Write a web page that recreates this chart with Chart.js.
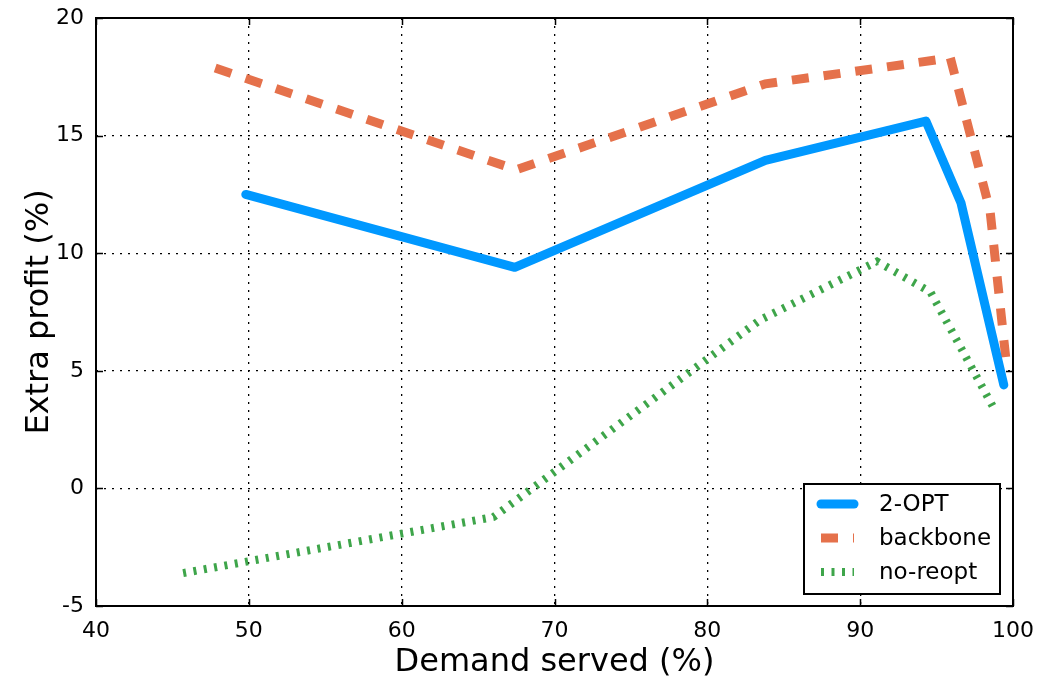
<!DOCTYPE html>
<html>
<head>
<meta charset="utf-8">
<script src="https://cdn.jsdelivr.net/npm/chart.js@4.4.1/dist/chart.umd.min.js"></script>
<style>
  body { margin: 0; background: #fff; }
  #wrap { width: 1037px; height: 682px; }
</style>
</head>
<body>
<div id="wrap"><canvas id="profitChart"></canvas></div>
<script>
// data
var seriesNames = ['2-OPT', 'backbone', 'no-reopt'];

var optX = [49.8, 67.4, 83.8, 94.3, 96.6, 99.4];
var optY = [12.5, 9.4, 13.95, 15.62, 12.13, 4.4];

var backboneX = [47.8, 67.5, 83.8, 95.9, 98.5, 99.6];
var backboneY = [17.87, 13.55, 17.2, 18.3, 11.8, 5.1];

var noReoptX = [45.7, 66.0, 83.45, 91.1, 94.6, 98.7];
var noReoptY = [-3.6, -1.22, 7.16, 9.65, 8.35, 3.46];

var xTicks = [40, 50, 60, 70, 80, 90, 100];
var yTicks = [-5, 0, 5, 10, 15, 20];

var FONT = '"DejaVu Sans", "Liberation Sans", sans-serif';

function toPoints(xs, ys) {
    var pts = [];
    for (var i = 0; i < xs.length; i++) pts.push({x: xs[i], y: ys[i]});
    return pts;
}

// inward ticks on all four sides, the frame, and the boxed legend
var framePlugin = {
    id: 'frameAndLegend',
    afterDatasetsDraw: function(chart) {
        var ctx = chart.ctx;
        var a = chart.chartArea;
        var xs = chart.scales.x, ys = chart.scales.y;
        ctx.save();
        ctx.strokeStyle = '#000';
        ctx.lineWidth = 1.5;
        ctx.setLineDash([]);
        ctx.beginPath();
        xTicks.forEach(function(v) {
            var px = Math.round(xs.getPixelForValue(v)) + 0.5;
            ctx.moveTo(px, a.bottom); ctx.lineTo(px, a.bottom - 7);
            ctx.moveTo(px, a.top); ctx.lineTo(px, a.top + 7);
        });
        yTicks.forEach(function(v) {
            var py = Math.round(ys.getPixelForValue(v)) + 0.5;
            ctx.moveTo(a.left, py); ctx.lineTo(a.left + 7, py);
            ctx.moveTo(a.right, py); ctx.lineTo(a.right - 7, py);
        });
        ctx.stroke();

        ctx.lineWidth = 2;
        ctx.strokeRect(a.left, a.top, a.right - a.left, a.bottom - a.top);

        // legend box
        var w = 196, h = 110;
        var x0 = a.right - 13 - w, y0 = a.bottom - 12 - h;
        ctx.fillStyle = '#fff';
        ctx.fillRect(x0, y0, w, h);
        ctx.lineWidth = 2;
        ctx.strokeRect(x0, y0, w, h);
        ctx.font = '23px ' + FONT;
        ctx.textBaseline = 'middle';
        chart.data.datasets.forEach(function(ds, i) {
            var yy = y0 + 20 + i * 34;
            ctx.save();
            ctx.strokeStyle = ds.borderColor;
            ctx.lineWidth = ds.borderWidth;
            ctx.lineCap = ds.borderCapStyle || 'butt';
            ctx.setLineDash(ds.borderDash || []);
            ctx.beginPath();
            ctx.moveTo(x0 + 17, yy);
            ctx.lineTo(x0 + 50, yy);
            ctx.stroke();
            ctx.restore();
            ctx.fillStyle = '#000';
            ctx.fillText(ds.label, x0 + 75, yy + 1);
        });
        ctx.restore();
    }
};

var ctx = document.getElementById('profitChart').getContext('2d');
var chart = new Chart(ctx, {
    type: 'scatter',
    data: {
        datasets: [{
            label: seriesNames[0],
            data: toPoints(optX, optY),
            showLine: true,
            borderColor: '#0098ff',
            borderWidth: 9,
            borderCapStyle: 'round',
            borderJoinStyle: 'round',
            pointRadius: 0
        }, {
            label: seriesNames[1],
            data: toPoints(backboneX, backboneY),
            showLine: true,
            borderColor: '#e5714b',
            borderWidth: 9,
            borderDash: [17, 15],
            borderCapStyle: 'butt',
            pointRadius: 0
        }, {
            label: seriesNames[2],
            data: toPoints(noReoptX, noReoptY),
            showLine: true,
            borderColor: '#3ea54a',
            borderWidth: 8,
            borderDash: [3, 7.5],
            borderCapStyle: 'butt',
            pointRadius: 0
        }]
    },
    options: {
        responsive: true,
        maintainAspectRatio: false,
        animation: false,
        layout: { padding: { top: 18, right: 24, left: 0, bottom: 0 } },
        plugins: {
            legend: { display: false },
            tooltip: { enabled: false }
        },
        scales: {
            x: {
                type: 'linear',
                min: 40,
                max: 100,
                afterBuildTicks: function(scale) {
                    scale.ticks = xTicks.map(function(v) { return {value: v}; });
                },
                afterFit: function(scale) {
                    scale.height = 76;
                    scale.paddingLeft = 0;
                    scale.paddingRight = 0;
                },
                grid: { color: '#000', lineWidth: 1.3, drawTicks: false },
                border: { display: false, dash: [2, 6] },
                ticks: {
                    color: '#000',
                    padding: 12,
                    maxRotation: 0,
                    font: { family: FONT, size: 22 }
                },
                title: {
                    display: true,
                    text: 'Demand served (%)',
                    color: '#000',
                    padding: { top: 0, bottom: 0 },
                    font: { family: FONT, size: 32 }
                }
            },
            y: {
                type: 'linear',
                min: -5,
                max: 20,
                afterBuildTicks: function(scale) {
                    scale.ticks = yTicks.map(function(v) { return {value: v}; });
                },
                afterFit: function(scale) {
                    scale.width = 96;
                    scale.paddingTop = 0;
                    scale.paddingBottom = 0;
                },
                grid: { color: '#000', lineWidth: 1.3, drawTicks: false },
                border: { display: false, dash: [2, 6] },
                ticks: {
                    color: '#000',
                    padding: 12,
                    font: { family: FONT, size: 22 }
                },
                title: {
                    display: true,
                    text: 'Extra profit (%)',
                    color: '#000',
                    padding: { top: 20, bottom: 0 },
                    font: { family: FONT, size: 32 }
                }
            }
        }
    },
    plugins: [framePlugin]
});
</script>
</body>
</html>
